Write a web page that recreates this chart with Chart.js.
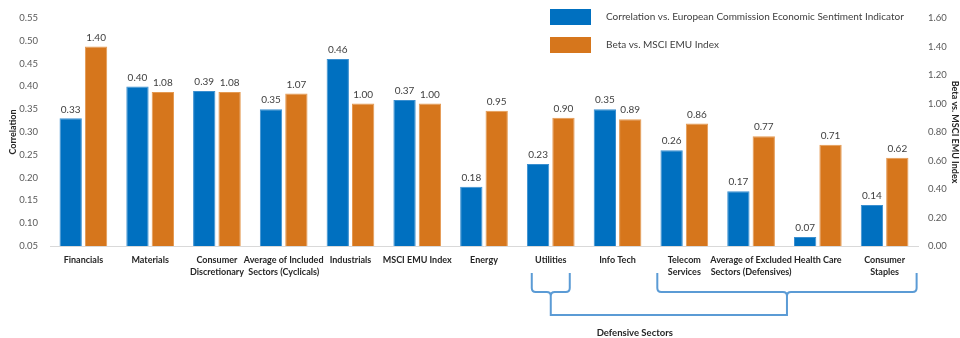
<!DOCTYPE html>
<html>
<head>
<meta charset="utf-8">
<script src="https://cdn.jsdelivr.net/npm/chart.js@4"></script>
<style>
  html, body { margin: 0; padding: 0; background: #fff; }
  #wrap { width: 960px; height: 338px; position: relative; }
</style>
</head>
<body>
<div id="wrap"><canvas id="sectorChart" width="960" height="338"></canvas></div>
<script>
// Sectors on the x axis (multi-line labels as in the original)
var categories = [
    'Financials', 'Materials', ['Consumer', 'Discretionary'], ['Average of Included', 'Sectors (Cyclicals)'],
    'Industrials', 'MSCI EMU Index', 'Energy', 'Utilities', 'Info Tech',
    ['Telecom', 'Services'], ['Average of Excluded', 'Sectors (Defensives)'], 'Health Care', ['Consumer', 'Staples']
];

// Series values
var correlation = [0.33, 0.40, 0.39, 0.35, 0.46, 0.37, 0.18, 0.23, 0.35, 0.26, 0.17, 0.07, 0.14];
var beta = [1.40, 1.08, 1.08, 1.07, 1.00, 1.00, 0.95, 0.90, 0.89, 0.86, 0.77, 0.71, 0.62];

// Axis ranges
var corrTicks = [0.05, 0.55, 0.05];   // min, max, step
var betaTicks = [0.00, 1.60, 0.20];

var seriesNames = [
    'Correlation vs. European Commission Economic Sentiment Indicator',
    'Beta vs. MSCI EMU Index'
];

var FONT = 'Lato, "Open Sans", sans-serif';

// value labels above each bar
var valueLabels = {
    id: 'valueLabels',
    afterDatasetsDraw: function(chart) {
        var ctx = chart.ctx;
        ctx.save();
        ctx.font = '10px ' + FONT;
        ctx.fillStyle = '#404040';
        ctx.textAlign = 'center';
        ctx.textBaseline = 'bottom';
        chart.data.datasets.forEach(function(ds, i) {
            chart.getDatasetMeta(i).data.forEach(function(bar, j) {
                ctx.fillText(ds.data[j].toFixed(2), bar.x, bar.y - 4);
            });
        });
        ctx.restore();
    }
};

// legend drawn inside the plot, top right
var boxLegend = {
    id: 'boxLegend',
    afterDraw: function(chart) {
        var ctx = chart.ctx;
        ctx.save();
        ctx.font = '10px ' + FONT;
        ctx.textBaseline = 'middle';
        chart.data.datasets.forEach(function(ds, i) {
            var y = 9 + i * 28;
            ctx.fillStyle = ds.backgroundColor;
            ctx.fillRect(550, y, 41, 16);
            ctx.fillStyle = '#404040';
            ctx.fillText(ds.label, 606, y + 8);
        });
        ctx.restore();
    }
};

// braces grouping the defensive sectors
var braces = {
    id: 'braces',
    afterDraw: function(chart) {
        var ctx = chart.ctx;
        var x = chart.scales.x;
        var util = x.getPixelForValue(7);
        var l1 = util - 19, r1 = util + 19;
        var l2 = x.getPixelForValue(9) - 27, r2 = x.getPixelForValue(12) + 32;
        var mid2 = (l2 + r2) / 2;
        var top = 273, arm = 292, low = 315;

        function brace(l, r, tip) {
            ctx.beginPath();
            ctx.moveTo(l, top);
            ctx.lineTo(l, arm - 4);
            ctx.quadraticCurveTo(l, arm, l + 4, arm);
            ctx.lineTo(tip - 4, arm);
            ctx.quadraticCurveTo(tip, arm, tip, arm + 4);
            ctx.quadraticCurveTo(tip, arm, tip + 4, arm);
            ctx.lineTo(r - 4, arm);
            ctx.quadraticCurveTo(r, arm, r, arm - 4);
            ctx.lineTo(r, top);
            ctx.stroke();
        }

        ctx.save();
        ctx.strokeStyle = '#5B9BD5';
        ctx.lineWidth = 2;
        brace(l1, r1, util);
        brace(l2, r2, mid2);
        ctx.beginPath();
        ctx.moveTo(util, arm + 4);
        ctx.lineTo(util, low);
        ctx.lineTo(mid2, low);
        ctx.lineTo(mid2, arm + 4);
        ctx.stroke();

        ctx.font = 'bold 9.5px ' + FONT;
        ctx.fillStyle = '#262626';
        ctx.textAlign = 'center';
        ctx.textBaseline = 'middle';
        ctx.fillText('Defensive Sectors', util + 84, 333);
        ctx.restore();
    }
};

var ctx = document.getElementById('sectorChart').getContext('2d');
var sectorChart = new Chart(ctx, {
    type: 'bar',
    data: {
        labels: categories,
        datasets: [{
            label: seriesNames[0],
            data: correlation,
            yAxisID: 'y',
            backgroundColor: '#0070C0',
            borderColor: '#3A8FD0',
            borderWidth: 1,
            categoryPercentage: 0.76,
            barPercentage: 0.88
        }, {
            label: seriesNames[1],
            data: beta,
            yAxisID: 'y1',
            backgroundColor: '#D6761C',
            borderColor: '#E59A52',
            borderWidth: 1,
            categoryPercentage: 0.76,
            barPercentage: 0.88
        }]
    },
    plugins: [valueLabels, boxLegend, braces],
    options: {
        responsive: false,
        animation: false,
        layout: { padding: { top: 18, left: 0, right: 0, bottom: 0 } },
        plugins: {
            legend: { display: false },
            tooltip: { enabled: false }
        },
        scales: {
            x: {
                grid: { display: false, drawTicks: false },
                border: { color: '#D9D9D9', width: 1 },
                ticks: {
                    autoSkip: false, maxRotation: 0, padding: 8,
                    color: '#262626',
                    font: { family: FONT, size: 9, weight: 'bold', lineHeight: 1.35 }
                },
                afterFit: function(s) { s.height = 92; }
            },
            y: {
                position: 'left',
                min: corrTicks[0], max: corrTicks[1],
                grid: { display: false, drawTicks: false },
                border: { display: false },
                ticks: {
                    stepSize: corrTicks[2], padding: 12, color: '#595959',
                    font: { family: FONT, size: 9.5 },
                    callback: function(v) { return v.toFixed(2); }
                },
                title: {
                    display: true, text: 'Correlation', color: '#262626',
                    font: { family: FONT, size: 9, weight: 'bold' },
                    padding: { top: 8, bottom: 0 }
                },
                afterFit: function(s) { s.width = 50; }
            },
            y1: {
                position: 'right',
                min: betaTicks[0], max: betaTicks[1],
                grid: { display: false, drawTicks: false },
                border: { display: false },
                ticks: {
                    stepSize: betaTicks[2], padding: 10, color: '#595959',
                    font: { family: FONT, size: 9.5 },
                    callback: function(v) { return v.toFixed(2); }
                },
                title: {
                    display: true, text: 'Beta vs. MSCI EMU Index', color: '#262626',
                    font: { family: FONT, size: 9, weight: 'bold' },
                    padding: { top: 0, bottom: 0 }
                },
                afterFit: function(s) { s.width = 42; }
            }
        }
    }
});
</script>
</body>
</html>
